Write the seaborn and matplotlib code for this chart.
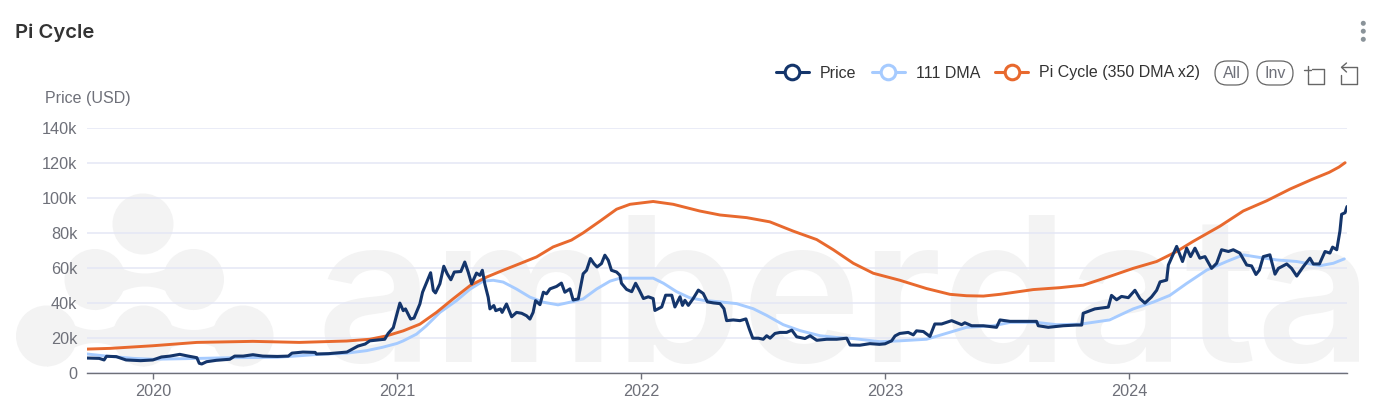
import numpy as np
import matplotlib
matplotlib.use('Agg')
import matplotlib.pyplot as plt
from matplotlib.lines import Line2D
from matplotlib.patches import Circle, FancyBboxPatch
import seaborn as sns

# values: x in decimal years, y in thousands of USD
price_x = [2019.73, 2019.78, 2019.80, 2019.81, 2019.85, 2019.89, 2019.95, 2020.0, 2020.035, 2020.07, 2020.11, 2020.145,
           2020.18, 2020.19, 2020.20, 2020.22, 2020.26, 2020.315, 2020.335, 2020.37, 2020.41, 2020.45, 2020.51, 2020.555,
           2020.57, 2020.615, 2020.665, 2020.67, 2020.72, 2020.795, 2020.815, 2020.84, 2020.87,
           2020.889, 2020.95, 2020.964, 2020.985, 2021.012, 2021.026, 2021.035, 2021.056, 2021.07, 2021.094, 2021.105,
           2021.138, 2021.149, 2021.158, 2021.176, 2021.192, 2021.206, 2021.221, 2021.235, 2021.262, 2021.278, 2021.292,
           2021.306, 2021.326, 2021.34, 2021.35, 2021.36, 2021.374, 2021.381, 2021.397, 2021.405, 2021.424, 2021.431,
           2021.449, 2021.47, 2021.49, 2021.511, 2021.531, 2021.545, 2021.558, 2021.568, 2021.586, 2021.6, 2021.613,
           2021.627, 2021.654, 2021.674, 2021.688, 2021.709, 2021.722, 2021.743, 2021.763, 2021.777, 2021.793, 2021.807,
           2021.82, 2021.838, 2021.852, 2021.866, 2021.879, 2021.9, 2021.914,
           2021.92, 2021.941, 2021.962, 2021.978, 2021.993, 2022.01, 2022.03, 2022.05, 2022.057, 2022.085, 2022.101,
           2022.126, 2022.139, 2022.16, 2022.17, 2022.18, 2022.194, 2022.214, 2022.235, 2022.255, 2022.272, 2022.297,
           2022.324, 2022.34, 2022.351, 2022.378, 2022.406, 2022.43, 2022.444, 2022.458, 2022.481, 2022.501, 2022.515,
           2022.529, 2022.549, 2022.57, 2022.597, 2022.618, 2022.638, 2022.672, 2022.693, 2022.72, 2022.761, 2022.802,
           2022.843, 2022.857, 2022.897, 2022.938, 2022.977, 2023.0, 2023.027, 2023.041, 2023.06,
           2023.095, 2023.116, 2023.129, 2023.157, 2023.184, 2023.204, 2023.232, 2023.273, 2023.314, 2023.327, 2023.355,
           2023.403, 2023.457, 2023.471, 2023.512, 2023.621, 2023.628, 2023.669, 2023.73, 2023.785, 2023.806, 2023.812,
           2023.86, 2023.915, 2023.928, 2023.949, 2023.969, 2023.997, 2024.024, 2024.045, 2024.065, 2024.092, 2024.113,
           2024.127, 2024.154, 2024.161, 2024.195, 2024.219, 2024.236, 2024.252, 2024.27, 2024.29, 2024.311, 2024.338,
           2024.359, 2024.379, 2024.407, 2024.427, 2024.454, 2024.482, 2024.502, 2024.52, 2024.534, 2024.55, 2024.577,
           2024.598, 2024.612, 2024.646, 2024.666, 2024.687, 2024.714, 2024.741, 2024.755, 2024.78, 2024.803, 2024.823,
           2024.834, 2024.851, 2024.864, 2024.871, 2024.885, 2024.893]
price_y = [8.7, 8.5, 7.6, 9.7, 9.5, 7.6, 7.2, 7.6, 9.3, 9.8, 10.8, 9.8,
           8.9, 5.7, 5.3, 6.6, 7.4, 8.0, 9.8, 9.8, 10.6, 9.8, 9.6, 9.8,
           11.5, 12.1, 11.9, 11.0, 11.2, 12.1, 13.6, 15.5, 16.7,
           18.5, 19.4, 22.7, 26, 40, 35.7, 36.7, 30.9, 31.5, 39.5, 46.2,
           57.3, 47.2, 45.8, 51, 61, 56.7, 53.3, 57.7, 58, 63.4, 57.7,
           51, 57.1, 55.8, 58.7, 51, 43.3, 36.7, 38.6, 35.7, 36.7, 34.7,
           39.5, 32.2, 34.7, 34.2, 32.8, 30.9, 34.7, 41.4, 39.1, 46.2, 45.3,
           48.1, 49.5, 51.4, 46.2, 48.1, 41.8, 42.4, 56.7, 58.7, 65.4, 62.5,
           60.6, 62.5, 67.3, 64.4, 58.7, 57.7, 55.8,
           51.3, 47.8, 46.5, 51.3, 47.4, 42.6, 43.6, 42.6, 35.8, 37.8, 44.5,
           44.5, 37.8, 43.6, 38.7, 41.6, 38.7, 42.6, 47.4, 45.5, 40.7, 40.1,
           39.7, 36.8, 30, 30.4, 30, 31, 25.2, 20, 20, 19.4, 21.4,
           20, 22.7, 23.3, 23.3, 24.6, 20.8, 19.8, 21.4, 18.8, 19.4, 19.4,
           20, 16.1, 16, 16.9, 16.5, 16.8, 18.5, 21.3, 22.7,
           23.3, 21.9, 24.2, 23.8, 21.0, 28.1, 28.1, 30, 27.7, 28.8, 27.1,
           27.1, 26.2, 30.4, 29.6, 29.6, 27.1, 26.2, 27.1, 27.5, 27.5, 34.2,
           36.7, 37.7, 44.4, 41.9, 43.8, 43.1, 47.3, 42.5, 40, 43.5, 47.3,
           52.1, 53.1, 61.7, 72.3, 63.7, 71.3, 66.5, 71.3, 65.6, 66.5, 59.8,
           62.7, 70.4, 69.4, 70.4, 68.5, 61.7, 61.2, 56.3, 58.8, 66.5, 67.5,
           56.5, 59.8, 62.3, 59.8, 55.4, 60.8, 65.6, 62.3, 62.3, 69.4, 68.5,
           71.9, 70.4, 81, 90.6, 91.5, 95]

dma_x = [2019.73, 2019.81, 2019.92, 2020.0, 2020.19, 2020.33, 2020.51, 2020.6, 2020.68, 2020.79, 2020.875, 2020.94,
         2021.0, 2021.026, 2021.08, 2021.12, 2021.176, 2021.244, 2021.3, 2021.353, 2021.395, 2021.435, 2021.49, 2021.545,
         2021.6, 2021.66, 2021.722, 2021.763, 2021.818, 2021.873, 2021.914, 2022.05, 2022.092, 2022.146, 2022.2, 2022.255,
         2022.324, 2022.392, 2022.46, 2022.515, 2022.583, 2022.652, 2022.734, 2022.802, 2022.87, 2022.98, 2023.06, 2023.17,
         2023.24, 2023.334, 2023.444, 2023.512, 2023.621, 2023.703, 2023.8, 2023.92, 2024.017, 2024.1, 2024.167, 2024.236,
         2024.318, 2024.4, 2024.468, 2024.536, 2024.605, 2024.687, 2024.782, 2024.837, 2024.882]
dma_y = [11, 9.8, 8.5, 8, 8.5, 8.9, 9.1, 10, 10.8, 11.4, 12.9, 14.8,
         17, 18.5, 22.3, 27, 34.7, 41.4, 48, 52.5, 53, 52, 48, 43.4,
         40.5, 39, 40.9, 42.4, 48, 52.5, 54.2, 54.2, 51.3, 46.5, 43, 41.6,
         40.7, 39.7, 36.8, 33, 27.7, 24.3, 21.4, 20.4, 19.8, 18, 18.5, 19.4,
         22.3, 26.2, 27.1, 29, 29, 27.7, 28, 30.4, 36.7, 40.6, 44.4, 51.2,
         58.8, 63.7, 67.5, 66, 64.6, 63.7, 61.3, 62.7, 65.2]

pi_x = [2019.73, 2019.824, 2020.0, 2020.18, 2020.41, 2020.6, 2020.794, 2020.889, 2020.957, 2021.026, 2021.094, 2021.162,
        2021.23, 2021.3, 2021.367, 2021.435, 2021.504, 2021.572, 2021.64, 2021.715, 2021.763, 2021.832, 2021.9, 2021.955,
        2022.05, 2022.132, 2022.24, 2022.324, 2022.433, 2022.528, 2022.624, 2022.72, 2022.788, 2022.87, 2022.952, 2023.061,
        2023.17, 2023.266, 2023.334, 2023.403, 2023.471, 2023.607, 2023.717, 2023.812, 2023.908, 2024.017, 2024.113,
        2024.195, 2024.263, 2024.372, 2024.468, 2024.564, 2024.66, 2024.75, 2024.82, 2024.86, 2024.885]
pi_y = [13.8, 14.2, 15.7, 17.6, 18.2, 17.6, 18.4, 19.4, 21.3, 24.2, 28, 34.7,
        42.4, 50, 54.8, 58.7, 62.5, 66.3, 72, 75.9, 80, 86.7, 93.5, 96.3,
        97.9, 96.3, 92.5, 90.2, 88.7, 86.3, 81, 76.2, 70.4, 62.7, 57, 53,
        48.3, 45, 44.2, 44, 45, 47.7, 48.8, 50.2, 54.6, 59.8, 63.7,
        69.4, 75.2, 83.8, 92.5, 98.3, 105, 110.5, 114.5, 117.5, 120]

x_ticks = [2020, 2021, 2022, 2023, 2024]
y_ticks = [0, 20, 40, 60, 80, 100, 120, 140]
y_labels = ['0', '20k', '40k', '60k', '80k', '100k', '120k', '140k']

NAVY = '#14356b'
SKY = '#a6cbff'
ORANGE = '#e8692e'
GRAY = '#6e7079'
W, H = 1384, 418
FS = 11.5

sns.set_theme(style='white')
plt.rcParams['font.family'] = ['Liberation Sans', 'DejaVu Sans']

fig = plt.figure(figsize=(W / 100, H / 100), dpi=100, facecolor='white')

# background layer in pixel coordinates: watermark and the toolbar bits
bg = fig.add_axes([0, 0, 1, 1], zorder=0)
bg.set_xlim(0, W)
bg.set_ylim(H, 0)
bg.axis('off')

wm = '#f3f3f3'
for c in [(143, 224), (95, 279.5), (193.5, 279.5), (46.5, 336), (143.3, 336), (243, 336)]:
    bg.add_patch(Circle(c, 30.5, color=wm, lw=0))
# concave necks between the logo blobs
for x0, x1, yc in [(95, 193.5, 279.5), (46.5, 143.3, 336), (143.3, 243, 336)]:
    xs = np.linspace(x0, x1, 60)
    t = (xs - x0) / (x1 - x0)
    half = 6.5 + 24 * (2 * t - 1) ** 2
    bg.fill_between(xs, yc - half, yc + half, color=wm, lw=0)

bg.text(316, 362, 'amberdata', fontsize=146, family='Inter', weight='semibold', color=wm, va='baseline', ha='left')

bg.text(15, 33, 'Pi Cycle', fontsize=14.6, family='Inter', weight='semibold', color='#333333', va='center')
bg.text(45, 98.5, 'Price (USD)', fontsize=FS, color=GRAY, va='center')

# kebab menu
for yy in [23.3, 31.2, 39.3]:
    bg.add_patch(Circle((1363.3, yy), 2.5, color='#8a9399', lw=0))

# All / Inv buttons
for left, right, label in [(1215, 1248, 'All'), (1257, 1293, 'Inv')]:
    bg.add_patch(FancyBboxPatch((left, 61), right - left, 24, boxstyle='round,pad=0,rounding_size=12',
                                fc='none', ec='#666666', lw=0.9))
    bg.text((left + right) / 2, 73, label, fontsize=FS, color=GRAY, ha='center', va='center')

# zoom icons
ic = dict(color='#666666', lw=1.0)
bg.plot([1312, 1324, 1324, 1307.5, 1307.5], [68.5, 68.5, 84, 84, 73.5], **ic)
bg.plot([1304, 1311], [69.5, 69.5], **ic)
bg.plot([1307.5, 1307.5], [66, 73], **ic)
bg.plot([1342, 1357.3, 1357.3, 1341, 1341], [67.3, 67.3, 84, 84, 75], **ic)
bg.plot([1346.5, 1341.5, 1346.5], [63, 67.3, 72], **ic)

# chart layer
ax = fig.add_axes([87 / W, 1 - 373.3 / H, 1260 / W, 245.7 / H], zorder=1)
ax.patch.set_alpha(0)

sns.lineplot(x=dma_x, y=dma_y, ax=ax, color=SKY, lw=2.1, estimator=None, sort=False, zorder=3)
sns.lineplot(x=pi_x, y=pi_y, ax=ax, color=ORANGE, lw=2.1, estimator=None, sort=False, zorder=4)
sns.lineplot(x=price_x, y=price_y, ax=ax, color=NAVY, lw=2.2, estimator=None, sort=False, zorder=5)

ax.set_xlim(2019.73, 2024.893)
ax.set_ylim(0, 140)
ax.set_xticks(x_ticks)
ax.set_xticklabels([str(t) for t in x_ticks])
ax.set_yticks(y_ticks)
ax.set_yticklabels(y_labels)
ax.grid(axis='y', color='#e4e7f5', lw=1.1)
ax.grid(axis='x', visible=False)
ax.set_axisbelow(True)
for s in ['top', 'right', 'left']:
    ax.spines[s].set_visible(False)
ax.spines['bottom'].set_color(GRAY)
ax.spines['bottom'].set_linewidth(1.0)
ax.tick_params(axis='x', length=4, width=1, color=GRAY, labelcolor=GRAY, labelsize=11.7, pad=4, bottom=True)
ax.tick_params(axis='y', length=0, labelcolor=GRAY, labelsize=11.7, pad=7)

handles = [Line2D([], [], color=c, lw=2.2, marker='o', ms=10.5, mfc='white', mew=2.2, mec=c) for c in [NAVY, SKY, ORANGE]]
fig.legend(handles, ['Price', '111 DMA', 'Pi Cycle (350 DMA x2)'], ncol=3, frameon=False, fontsize=FS,
           labelcolor='#333333', handlelength=2.06, handletextpad=0.7, columnspacing=0.95, borderpad=0, borderaxespad=0,
           loc='center left', bbox_to_anchor=(776 / W, 1 - 73 / H))

fig.savefig('out.png', dpi=100)
